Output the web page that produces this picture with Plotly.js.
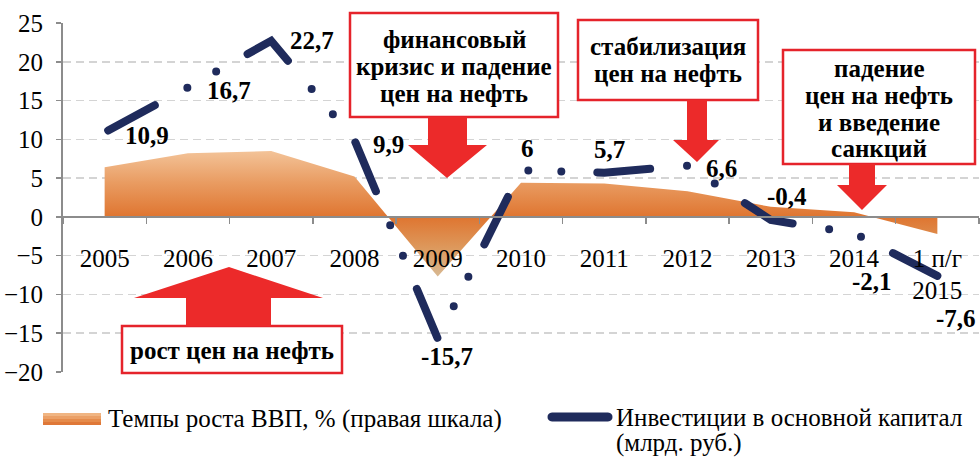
<!DOCTYPE html>
<html>
<head>
<meta charset="utf-8">
<script src="https://cdn.plot.ly/plotly-3.0.1.min.js"></script>
<style>
  html, body { margin: 0; padding: 0; background: #ffffff; }
  #chart { width: 980px; height: 461px; }
  .scatterlayer .js-line { stroke-linecap: round; stroke-dashoffset: -4px; }
</style>
</head>
<body>
<div id="chart"></div>
<script>
// ---- data ----
const categories = ['2005', '2006', '2007', '2008', '2009', '2010', '2011', '2012', '2013', '2014', '1 п/г<br>2015'];
const gdpGrowth = [6.4, 8.2, 8.5, 5.2, -7.7, 4.4, 4.3, 3.3, 1.3, 0.6, -2.2];
const investment = [10.9, 16.7, 22.7, 9.9, -15.7, 6, 5.7, 6.6, -0.4, -2.1, -7.6];
const gdpName = 'Темпы роста ВВП, % (правая шкала)';
const investName = ['Инвестиции в основной капитал', '(млрд. руб.)'];
const yTicks = [-20, -15, -10, -5, 0, 5, 10, 15, 20, 25];

// ---- layout helpers (pixel -> paper) ----
const ML = 63, MT = 23, PW = 916, PH = 349;
const px = x => (x - ML) / PW;
const py = y => (MT + PH - y) / PH;
const SERIF = 'Liberation Serif, Times New Roman, serif';
const RED = '#ec2a2a';
const BORDER = '#e5232b';
const NAVY = '#1f2b5c';

// data label offsets (pixels) for the investment series
const labelShift = [[42, -3], [41, -3], [41, 0], [34, -4], [9, -18], [6, 22], [5, 23], [34, -3], [16, 23], [18, -48], [19, -43]];
const fmt = v => String(v).replace('.', ',');

const traces = [
  {
    type: 'scatter', mode: 'lines', name: gdpName,
    x: categories, y: gdpGrowth,
    fill: 'tozeroy',
    line: { width: 0, color: '#e27a34' },
    fillcolor: '#e8904e',
    fillgradient: {
      type: 'vertical',
      colorscale: [[0, '#d8b993'], [0.22, '#dd9a5e'], [0.475, '#df7530'], [0.75, '#e99c62'], [1, '#f3c398']]
    },
    hoverinfo: 'skip', showlegend: false
  },
  {
    type: 'scatter', mode: 'lines', name: investName.join(' '),
    x: categories, y: investment,
    line: { width: 8, color: NAVY, dash: '53px,37px,0px,33px,0px,36px', simplify: false },
    hoverinfo: 'skip', showlegend: false
  }
];

const annotations = investment.map((v, i) => ({
  xref: 'x', yref: 'y', x: i, y: v,
  text: fmt(v), showarrow: false,
  xshift: labelShift[i][0], yshift: labelShift[i][1],
  xanchor: 'center', yanchor: 'middle',
  font: { family: SERIF, size: 25, color: '#000', weight: 'bold' }
}));

// callout boxes: [x0, x1, y0, y1, lines, lineCentersY]
const boxes = [
  [350, 558, 13, 117, ['финансовый', 'кризис и падение', 'цен на нефть'], [39.5, 66.5, 93]],
  [578, 758, 20, 100, ['стабилизация', 'цен на нефть'], [46.5, 73.5]],
  [783, 975, 50, 164, ['падение', 'цен на нефть', 'и введение', 'санкций'], [69, 95.5, 122, 148.5]],
  [122, 342, 326, 373, ['рост цен на нефть'], [350.5]]
];

const shapes = [];
boxes.forEach(b => {
  shapes.push({
    type: 'rect', xref: 'paper', yref: 'paper', layer: 'above',
    x0: px(b[0]), x1: px(b[1]), y0: py(b[3]), y1: py(b[2]),
    line: { color: BORDER, width: 2.5 }, fillcolor: '#ffffff'
  });
  const cx = (b[0] + b[1]) / 2;
  b[4].forEach((t, k) => {
    annotations.push({
      xref: 'paper', yref: 'paper', x: px(cx), y: py(b[5][k]),
      text: t, showarrow: false, xanchor: 'center', yanchor: 'middle',
      font: { family: SERIF, size: 25, color: '#000', weight: 'bold' }
    });
  });
});

// block arrows: [shaftX0, shaftX1, baseY, neckY, headX0, headX1, tipX, tipY]
const arrows = [
  [428, 467, 117, 145, 408, 487, 447, 178],
  [687, 707, 100, 140, 673, 719, 697, 162],
  [849, 875, 164, 185, 837, 887, 862, 210],
  [186, 271, 326, 298, 134, 323, 229, 267]
];
const pathOf = pts => 'M' + pts.map(p => px(p[0]).toFixed(5) + ',' + py(p[1]).toFixed(5)).join(' L') + ' Z';
arrows.forEach(a => {
  const pts = [[a[0], a[2]], [a[0], a[3]], [a[4], a[3]], [a[6], a[7]], [a[5], a[3]], [a[1], a[3]], [a[1], a[2]]];
  shapes.push({ type: 'path', xref: 'paper', yref: 'paper', layer: 'above', path: pathOf(pts), fillcolor: RED, line: { width: 0 } });
});

// ---- legend (drawn as shapes + text) ----
const swatchBands = ['#f0b583', '#eba067', '#e58b4b', '#df7838'];
swatchBands.forEach((c, k) => {
  shapes.push({
    type: 'rect', xref: 'paper', yref: 'paper', layer: 'above',
    x0: px(43), x1: px(101), y0: py(413 + 3 * (k + 1)), y1: py(413 + 3 * k),
    line: { width: 0 }, fillcolor: c
  });
});
(function () {
  const x0 = 552, x1 = 608, yc = 417, h = 4.5, r = 6;
  const P = (x, y) => px(x).toFixed(5) + ',' + py(y).toFixed(5);
  const d = 'M' + P(x0, yc - h) + ' L' + P(x1, yc - h) +
    ' C' + P(x1 + r, yc - h) + ' ' + P(x1 + r, yc + h) + ' ' + P(x1, yc + h) +
    ' L' + P(x0, yc + h) +
    ' C' + P(x0 - r, yc + h) + ' ' + P(x0 - r, yc - h) + ' ' + P(x0, yc - h) + ' Z';
  shapes.push({ type: 'path', xref: 'paper', yref: 'paper', layer: 'above', path: d, fillcolor: NAVY, line: { width: 0 } });
})();
const legendText = [
  [gdpName, 106, 419],
  [investName[0], 614, 417],
  [investName[1], 614, 443]
];
legendText.forEach(t => annotations.push({
  xref: 'paper', yref: 'paper', x: px(t[1]), y: py(t[2]),
  text: t[0], showarrow: false, xanchor: 'left', yanchor: 'middle',
  font: { family: SERIF, size: 25, color: '#000' }
}));

const layout = {
  width: 980, height: 461,
  margin: { l: ML, r: 980 - ML - PW, t: MT, b: 461 - MT - PH, pad: 0, autoexpand: false },
  paper_bgcolor: '#ffffff', plot_bgcolor: '#ffffff',
  font: { family: SERIF, size: 25, color: '#000' },
  showlegend: false,
  xaxis: {
    type: 'category', anchor: 'free', position: 20 / 45,
    range: [-0.5, 10.5], autorange: false,
    showline: true, linecolor: '#8c8c8c', linewidth: 2,
    ticks: 'outside', tickson: 'boundaries', ticklen: 6, tickwidth: 1.5, tickcolor: '#8c8c8c',
    showgrid: false, zeroline: false,
    tickfont: { family: SERIF, size: 25, color: '#000' },
    ticklabelstandoff: 19,
    fixedrange: true
  },
  yaxis: {
    range: [-20, 25], autorange: false, tickmode: 'array', tickvals: yTicks,
    showline: true, linecolor: '#8c8c8c', linewidth: 2,
    ticks: 'outside', ticklen: 5, tickwidth: 1.5, tickcolor: '#8c8c8c',
    showgrid: true, gridcolor: '#d4d4d4', gridwidth: 1.5, griddash: '8px,5px',
    zeroline: false,
    tickfont: { family: SERIF, size: 25, color: '#000' },
    ticklabelstandoff: 8,
    fixedrange: true
  },
  shapes: shapes,
  annotations: annotations
};

Plotly.newPlot('chart', traces, layout, { staticPlot: true, displayModeBar: false });
</script>
</body>
</html>
